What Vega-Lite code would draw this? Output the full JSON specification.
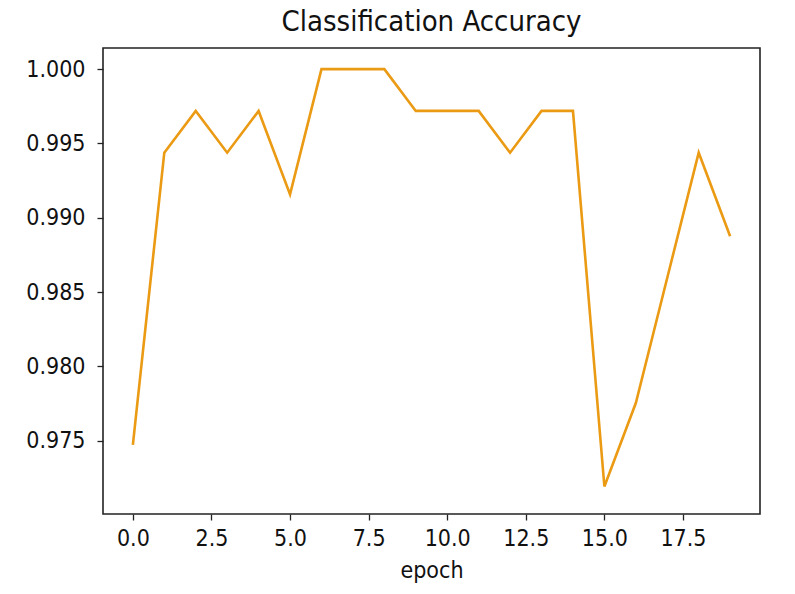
{
  "$schema": "https://vega.github.io/schema/vega-lite/v6.json",
  "autosize": "none",
  "width": 657,
  "height": 466,
  "padding": {"left": 103, "top": 48, "right": 35, "bottom": 80},
  "background": "white",
  "title": {
    "text": "Classification Accuracy",
    "font": "DejaVu Sans Condensed",
    "fontSize": 29,
    "fontWeight": "normal",
    "color": "#111",
    "anchor": "middle",
    "offset": 11
  },
  "data": {
    "values": [
      {"epoch": 0, "acc": 0.97472},
      {"epoch": 1, "acc": 0.99438},
      {"epoch": 2, "acc": 0.99719},
      {"epoch": 3, "acc": 0.99438},
      {"epoch": 4, "acc": 0.99719},
      {"epoch": 5, "acc": 0.99157},
      {"epoch": 6, "acc": 1.0},
      {"epoch": 7, "acc": 1.0},
      {"epoch": 8, "acc": 1.0},
      {"epoch": 9, "acc": 0.99719},
      {"epoch": 10, "acc": 0.99719},
      {"epoch": 11, "acc": 0.99719},
      {"epoch": 12, "acc": 0.99438},
      {"epoch": 13, "acc": 0.99719},
      {"epoch": 14, "acc": 0.99719},
      {"epoch": 15, "acc": 0.97191},
      {"epoch": 16, "acc": 0.97753},
      {"epoch": 17, "acc": 0.98596},
      {"epoch": 18, "acc": 0.99438},
      {"epoch": 19, "acc": 0.98876}
    ]
  },
  "mark": {"type": "line", "color": "#eb9a14", "strokeWidth": 2.6, "clip": true},
  "encoding": {
    "x": {
      "field": "epoch",
      "type": "quantitative",
      "scale": {"domain": [-0.95, 19.95], "nice": false, "zero": false},
      "axis": {
        "title": "epoch",
        "values": [0, 2.5, 5, 7.5, 10, 12.5, 15, 17.5],
        "format": ".1f",
        "grid": false,
        "domain": false,
        "tickColor": "#222",
        "tickSize": 6,
        "tickWidth": 1.3,
        "labelFont": "DejaVu Sans Condensed",
        "labelFontSize": 23,
        "labelColor": "#111",
        "labelPadding": 7,
        "titleFont": "DejaVu Sans Condensed",
        "titleFontSize": 23,
        "titleFontWeight": "normal",
        "titleColor": "#111",
        "titlePadding": 9
      }
    },
    "y": {
      "field": "acc",
      "type": "quantitative",
      "scale": {"domain": [0.97006, 1.001425], "nice": false, "zero": false},
      "axis": {
        "title": null,
        "values": [0.975, 0.98, 0.985, 0.99, 0.995, 1.0],
        "format": ".3f",
        "grid": false,
        "domain": false,
        "tickColor": "#222",
        "tickSize": 6,
        "tickWidth": 1.3,
        "labelFont": "DejaVu Sans Condensed",
        "labelFontSize": 23,
        "labelColor": "#111",
        "labelPadding": 12
      }
    }
  },
  "config": {
    "view": {"stroke": "#222", "strokeWidth": 1.6}
  }
}
